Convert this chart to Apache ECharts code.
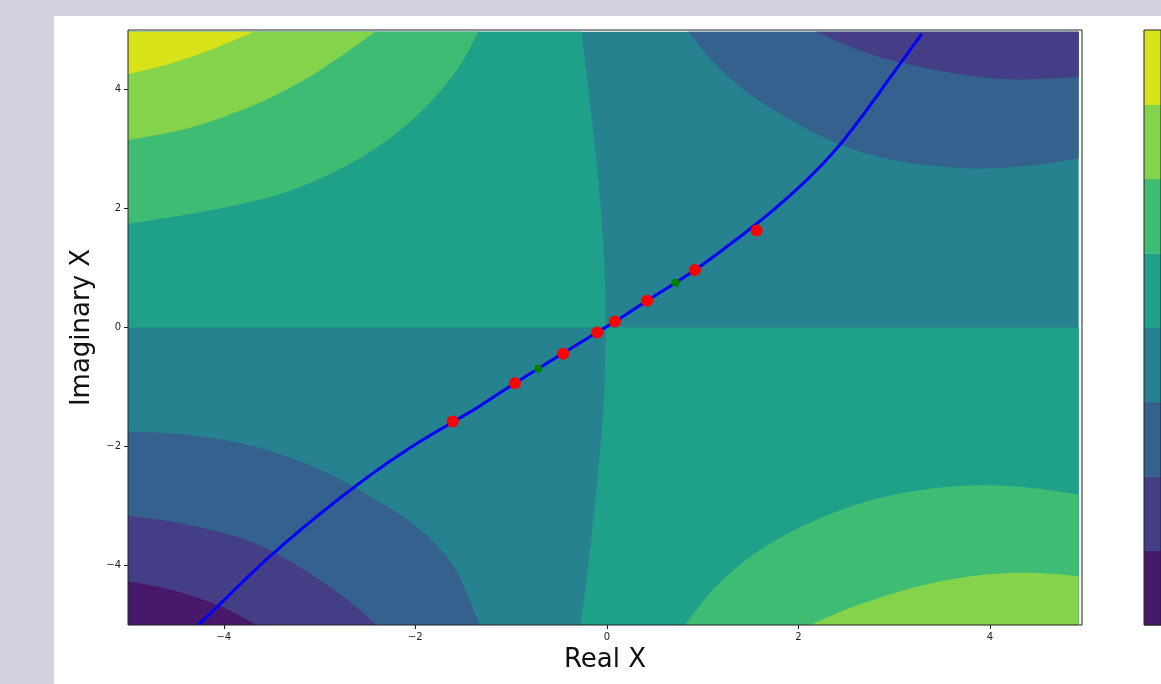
<!DOCTYPE html>
<html>
<head>
<meta charset="utf-8">
<script src="https://cdn.jsdelivr.net/npm/echarts@6/dist/echarts.min.js"></script>
<style>
html,body{margin:0;padding:0;width:1161px;height:684px;overflow:hidden;background:#d4d2df;}
#fig{position:absolute;left:54px;top:16px;width:1107px;height:668px;background:#ffffff;}
#chart{position:absolute;left:0;top:0;width:1161px;height:684px;}
</style>
</head>
<body>
<div id="fig"></div>
<div id="chart"></div>
<script>
// ---- tick labels ----
const xTicks = [-4, -2, 0, 2, 4];
const yTicks = [-4, -2, 0, 2, 4];

// ---- contour band colours (viridis, 8 levels, low -> high) ----
const bandColors = ['#48186a', '#433e85', '#34618d', '#26828e', '#1fa088', '#3fbc73', '#84d44b', '#d8e219'];
const colorbarLevels = [0, 1, 2, 3, 4, 5, 6, 7];

// ---- extent of the contour data ----
const X0 = -5, X1 = 4.925, Y0 = -5, Y1 = 4.97;

// ---- contour boundaries ----
const centerUpper = [[-0.265, 4.97], [-0.177, 3.785], [-0.091, 2.493], [-0.031, 1.201], [-0.01, 0]];
const centerLower = [[-0.01, 0], [-0.039, -1.391], [-0.107, -2.685], [-0.195, -3.978], [-0.274, -5]];
const ul65 = [[-5, 1.738], [-4.038, 2.002], [-3.342, 2.280], [-2.647, 2.784], [-2.125, 3.360], [-1.777, 3.903], [-1.534, 4.406], [-1.343, 4.97]];
const ul76 = [[-5, 3.148], [-4.385, 3.344], [-3.690, 3.735], [-3.168, 4.154], [-2.716, 4.629], [-2.420, 4.97]];
const ul87 = [[-5, 4.255], [-4.559, 4.435], [-4.107, 4.686], [-3.690, 4.97]];
const tr43 = [[0.848, 4.97], [1.109, 4.461], [1.457, 3.958], [1.805, 3.596], [2.152, 3.287], [2.500, 3.035], [2.848, 2.867], [3.196, 2.757], [3.544, 2.700], [3.891, 2.673], [4.239, 2.700], [4.587, 2.757], [4.925, 2.841]];
const tr32 = [[2.188, 4.97], [2.500, 4.742], [2.848, 4.545], [3.196, 4.406], [3.544, 4.294], [3.891, 4.210], [4.239, 4.171], [4.587, 4.183], [4.925, 4.210]];
const bl43 = [[-5, -1.747], [-4.385, -1.802], [-3.690, -1.998], [-2.994, -2.389], [-2.473, -2.837], [-1.951, -3.396], [-1.604, -4.012], [-1.325, -5]];
const bl32 = [[-5, -3.161], [-4.385, -3.312], [-3.690, -3.619], [-3.168, -4.067], [-2.716, -4.570], [-2.403, -5]];
const bl21 = [[-5, -4.263], [-4.559, -4.403], [-4.038, -4.683], [-3.655, -5]];
const br56 = [[0.814, -5], [1.109, -4.403], [1.457, -3.899], [1.805, -3.535], [2.152, -3.257], [2.500, -3.032], [2.848, -2.864], [3.196, -2.753], [3.544, -2.680], [3.891, -2.653], [4.239, -2.669], [4.587, -2.725], [4.925, -2.809]];
const br67 = [[2.118, -5], [2.500, -4.738], [2.848, -4.542], [3.196, -4.374], [3.544, -4.247], [3.891, -4.163], [4.239, -4.123], [4.587, -4.134], [4.925, -4.180]];

// ---- blue curve, red and green points ----
const blueCurve = [[-4.34, -5.1], [-4.266, -5.0], [-3.483, -3.795], [-2.648, -2.695], [-2.090, -2.059], [-1.614, -1.593], [-1.395, -1.387], [-0.960, -0.935], [-0.456, -0.431], [-0.107, -0.086], [0.083, 0.099], [0.420, 0.451], [0.918, 0.966], [1.529, 1.701], [1.842, 2.121], [2.155, 2.588], [2.434, 3.076], [2.712, 3.655], [2.990, 4.277], [3.287, 4.933]];
const redPoints = [[-1.610, -1.579], [-0.960, -0.935], [-0.456, -0.443], [-0.101, -0.086], [0.083, 0.099], [0.420, 0.451], [0.918, 0.966], [1.563, 1.632]];
const greenPoints = [[-0.717, -0.695], [0.717, 0.754]];

// regions drawn in order (later on top)
const regions = [
  { band: 3, curve: [], corners: [[X0, Y0], [X1, Y0], [X1, Y1], [X0, Y1]] },
  { band: 4, curve: centerUpper, corners: [[X0, 0], [X0, Y1]] },
  { band: 4, curve: centerLower, corners: [[X1, Y0], [X1, 0]] },
  { band: 5, curve: ul65, corners: [[X0, Y1]] },
  { band: 6, curve: ul76, corners: [[X0, Y1]] },
  { band: 7, curve: ul87, corners: [[X0, Y1]] },
  { band: 2, curve: tr43, corners: [[X1, Y1]] },
  { band: 1, curve: tr32, corners: [[X1, Y1]] },
  { band: 2, curve: bl43, corners: [[X0, Y0]] },
  { band: 1, curve: bl32, corners: [[X0, Y0]] },
  { band: 0, curve: bl21, corners: [[X0, Y0]] },
  { band: 5, curve: br56, corners: [[X1, Y0]] },
  { band: 6, curve: br67, corners: [[X1, Y0]] }
];

// centripetal Catmull-Rom through pixel points (rendering only)
function smoothPts(pts) {
  const n = pts.length;
  if (n < 3) return pts.slice();
  const P = [[2 * pts[0][0] - pts[1][0], 2 * pts[0][1] - pts[1][1]]].concat(pts, [[2 * pts[n - 1][0] - pts[n - 2][0], 2 * pts[n - 1][1] - pts[n - 2][1]]]);
  const d = (a, b) => Math.max(Math.pow(Math.hypot(b[0] - a[0], b[1] - a[1]), 0.5), 1e-4);
  const out = [];
  const segs = 16;
  for (let i = 1; i < P.length - 2; i++) {
    const p0 = P[i - 1], p1 = P[i], p2 = P[i + 1], p3 = P[i + 2];
    const t0 = 0, t1 = t0 + d(p0, p1), t2 = t1 + d(p1, p2), t3 = t2 + d(p2, p3);
    for (let s = 0; s < segs; s++) {
      const t = t1 + (t2 - t1) * s / segs;
      const pt = [];
      for (let k = 0; k < 2; k++) {
        const A1 = (t1 - t) / (t1 - t0) * p0[k] + (t - t0) / (t1 - t0) * p1[k];
        const A2 = (t2 - t) / (t2 - t1) * p1[k] + (t - t1) / (t2 - t1) * p2[k];
        const A3 = (t3 - t) / (t3 - t2) * p2[k] + (t - t2) / (t3 - t2) * p3[k];
        const B1 = (t2 - t) / (t2 - t0) * A1 + (t - t0) / (t2 - t0) * A2;
        const B2 = (t3 - t) / (t3 - t1) * A2 + (t - t1) / (t3 - t1) * A3;
        pt.push((t2 - t) / (t2 - t1) * B1 + (t - t1) / (t2 - t1) * B2);
      }
      out.push(pt);
    }
  }
  out.push(pts[n - 1]);
  return out;
}

const minus = v => (v < 0 ? '\u2212' + Math.abs(v) : String(v));
const font = 'DejaVu Sans';

const chart = echarts.init(document.getElementById('chart'), null, { renderer: 'canvas' });
chart.setOption({
  animation: false,
  grid: [
    { left: 128, top: 30, right: 79, bottom: 59, show: true, borderColor: '#222', borderWidth: 1, backgroundColor: 'transparent', z: 10 },
    { left: 1144, top: 30, width: 40, bottom: 59, show: true, borderColor: '#222', borderWidth: 1, backgroundColor: 'transparent', z: 10 }
  ],
  xAxis: [
    {
      gridIndex: 0, type: 'value', min: -5, max: 4.96, z: 10, position: 'bottom',
      axisLine: { show: false, onZero: false },
      axisTick: { show: true, customValues: xTicks, length: 4, lineStyle: { color: '#222' } },
      axisLabel: { customValues: xTicks, formatter: minus, fontSize: 10, fontFamily: font, color: '#222', margin: 7 },
      splitLine: { show: false },
      name: 'Real X', nameLocation: 'middle', nameGap: 20,
      nameTextStyle: { fontSize: 26, fontFamily: font, color: '#111' }
    },
    { gridIndex: 1, type: 'value', min: 0, max: 1, show: false }
  ],
  yAxis: [
    {
      gridIndex: 0, type: 'value', min: -5, max: 5, z: 10, position: 'left',
      axisLine: { show: false, onZero: false },
      axisTick: { show: true, customValues: yTicks, length: 4, lineStyle: { color: '#222' } },
      axisLabel: { customValues: yTicks, formatter: minus, fontSize: 10, fontFamily: font, color: '#222', margin: 7 },
      splitLine: { show: false },
      name: 'Imaginary X', nameLocation: 'middle', nameGap: 29,
      nameTextStyle: { fontSize: 26, fontFamily: font, color: '#111' }
    },
    { gridIndex: 1, type: 'value', min: 0, max: 8, show: false }
  ],
  series: [
    {
      type: 'custom', xAxisIndex: 0, yAxisIndex: 0, z: 1, clip: true,
      data: regions.map((r, i) => [0, 0, i]),
      renderItem: function (params, api) {
        const r = regions[api.value(2)];
        const curvePx = smoothPts(r.curve.map(p => api.coord(p)));
        const pts = curvePx.concat(r.corners.map(p => api.coord(p)));
        return { type: 'polygon', shape: { points: pts }, style: { fill: bandColors[r.band], stroke: null } };
      }
    },
    {
      type: 'custom', xAxisIndex: 1, yAxisIndex: 1, z: 1,
      data: colorbarLevels.map(l => [0, l]),
      renderItem: function (params, api) {
        const l = api.value(1);
        const a = api.coord([0, l + 1]);
        const b = api.coord([1, l]);
        return { type: 'rect', shape: { x: a[0], y: a[1], width: b[0] - a[0], height: b[1] - a[1] + 0.5 }, style: { fill: bandColors[l] } };
      }
    },
    {
      type: 'custom', xAxisIndex: 0, yAxisIndex: 0, z: 3, clip: true,
      data: [[0, 0]],
      renderItem: function (params, api) {
        const pts = smoothPts(blueCurve.map(p => api.coord(p)));
        return { type: 'polyline', shape: { points: pts }, style: { stroke: '#0000ff', lineWidth: 3, fill: null, lineJoin: 'round' } };
      }
    },
    {
      type: 'scatter', xAxisIndex: 0, yAxisIndex: 0, z: 4,
      data: redPoints, symbolSize: 12, itemStyle: { color: '#ff0000', opacity: 1 }
    },
    {
      type: 'scatter', xAxisIndex: 0, yAxisIndex: 0, z: 4,
      data: greenPoints, symbolSize: 8, itemStyle: { color: '#008000', opacity: 1 }
    }
  ]
});
</script>
</body>
</html>
